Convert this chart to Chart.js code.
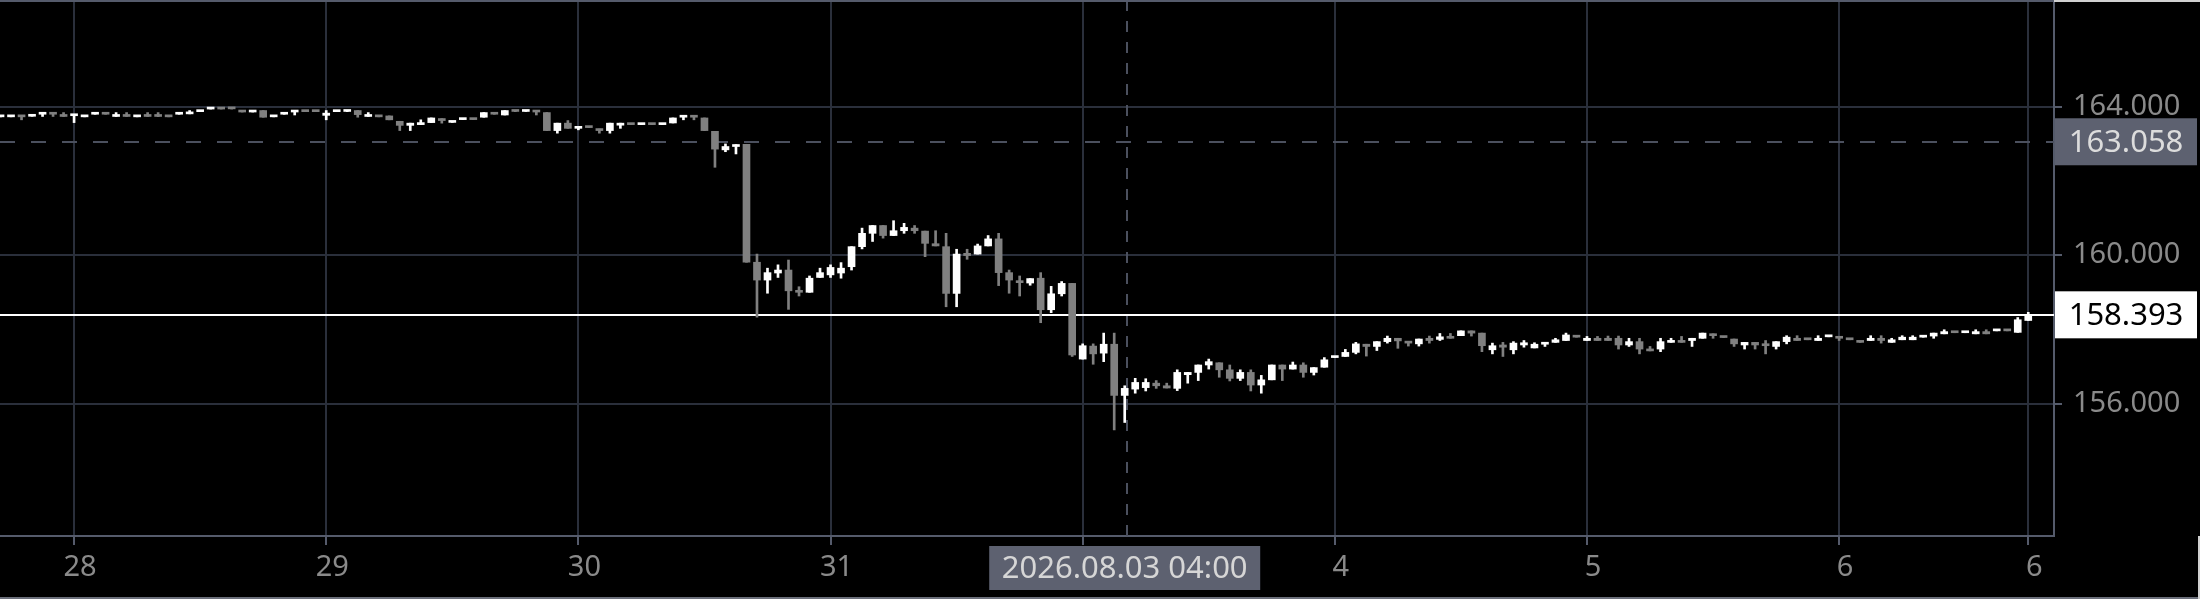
<!DOCTYPE html>
<html>
<head>
<meta charset="utf-8">
<script src="https://cdn.jsdelivr.net/npm/chart.js@4.4.1/dist/chart.umd.min.js"></script>
<style>
  html, body { margin: 0; padding: 0; background: #000; overflow: hidden; }
  #wrap { width: 2200px; height: 599px; }
</style>
</head>
<body>
<div id="wrap"><canvas id="graficoVelas" width="2200" height="599"></canvas></div>
<script>
// hourly candles, 27 jul 17:00 -> 6 aug 18:00
const opens = [
  163.73,163.73,163.75,163.745,163.80,163.83,163.76,163.76,163.73,163.80,
  163.82,163.74,163.78,163.73,163.78,163.77,163.75,163.80,163.81,163.87,
  163.94,163.96,163.955,163.88,163.86,163.90,163.73,163.80,163.86,163.89,
  163.89,163.77,163.87,163.875,163.90,163.74,163.75,163.755,163.61,163.50,
  163.52,163.575,163.68,163.58,163.655,163.675,163.72,163.82,163.78,163.89,
  163.875,163.90,163.845,163.36,163.56,163.42,163.46,163.40,163.36,163.505,
  163.54,163.52,163.54,163.52,163.565,163.72,163.76,163.70,163.34,162.84,
  162.93,162.99,159.81,159.33,159.52,159.60,159.04,159.00,159.40,159.47,
  159.52,159.69,160.23,160.59,160.80,160.53,160.66,160.73,160.65,160.31,
  160.23,158.97,160.05,160.03,160.25,160.44,159.53,159.31,159.25,159.38,
  158.53,158.96,159.24,157.20,157.55,157.36,157.60,156.22,156.39,156.43,
  156.55,156.48,156.41,156.78,156.84,157.04,157.10,156.91,156.68,156.84,
  156.50,156.64,157.04,156.93,157.04,156.84,156.98,157.24,157.27,157.38,
  157.60,157.54,157.67,157.76,157.67,157.61,157.76,157.73,157.80,157.83,
  157.96,157.90,157.45,157.58,157.45,157.58,157.50,157.60,157.65,157.70,
  157.81,157.70,157.76,157.76,157.76,157.58,157.67,157.47,157.47,157.65,
  157.70,157.70,157.76,157.88,157.80,157.74,157.58,157.65,157.61,157.54,
  157.67,157.76,157.74,157.70,157.80,157.81,157.74,157.67,157.70,157.76,
  157.65,157.72,157.72,157.79,157.82,157.88,157.93,157.91,157.88,157.94,
  157.96,157.98,157.92,158.24
];
const highs = [
  163.75,163.75,163.75,163.765,163.83,163.83,163.845,163.78,163.75,163.82,
  163.82,163.845,163.845,163.75,163.845,163.845,163.75,163.82,163.90,163.89,
  163.96,163.96,163.96,163.88,163.88,163.90,163.75,163.82,163.90,163.89,
  163.89,163.90,163.89,163.89,163.90,163.845,163.75,163.755,163.61,163.56,
  163.65,163.70,163.68,163.60,163.675,163.675,163.845,163.82,163.90,163.89,
  163.89,163.90,163.845,163.56,163.63,163.47,163.46,163.40,163.56,163.56,
  163.54,163.54,163.54,163.54,163.70,163.76,163.76,163.70,163.34,163.00,
  162.98,162.99,160.03,159.65,159.74,159.87,159.15,159.44,159.65,159.74,
  159.80,160.23,160.73,160.80,160.80,160.93,160.86,160.80,160.65,160.66,
  160.59,160.16,160.16,160.30,160.53,160.59,159.60,159.44,159.37,159.53,
  159.16,159.29,159.24,157.61,157.61,157.90,157.90,156.48,156.68,156.67,
  156.62,156.55,156.91,156.84,157.04,157.20,157.10,157.04,156.91,156.91,
  156.76,157.04,157.04,157.12,157.10,156.97,157.24,157.26,157.46,157.65,
  157.60,157.67,157.82,157.76,157.67,157.74,157.82,157.89,157.89,157.96,
  157.96,157.90,157.63,157.65,157.67,157.70,157.64,157.65,157.76,157.90,
  157.81,157.81,157.81,157.82,157.82,157.76,157.76,157.54,157.76,157.76,
  157.81,157.76,157.90,157.88,157.80,157.74,157.65,157.65,157.70,157.67,
  157.83,157.83,157.74,157.83,157.82,157.81,157.74,157.67,157.83,157.83,
  157.76,157.83,157.83,157.81,157.90,157.99,157.93,157.93,157.99,157.99,
  157.98,157.98,158.32,158.46
];
const lows = [
  163.73,163.73,163.65,163.745,163.74,163.74,163.74,163.575,163.73,163.80,
  163.80,163.74,163.74,163.73,163.74,163.735,163.73,163.80,163.81,163.87,
  163.94,163.94,163.94,163.86,163.86,163.72,163.73,163.80,163.78,163.87,
  163.87,163.65,163.87,163.87,163.72,163.74,163.73,163.65,163.36,163.36,
  163.52,163.575,163.56,163.58,163.655,163.655,163.72,163.80,163.78,163.87,
  163.875,163.78,163.36,163.29,163.42,163.38,163.44,163.29,163.29,163.42,
  163.52,163.52,163.52,163.52,163.565,163.65,163.65,163.36,162.37,162.79,
  162.73,159.81,158.33,158.975,159.40,158.54,158.90,159.00,159.40,159.40,
  159.38,159.60,160.17,160.37,160.46,160.53,160.59,160.59,159.96,160.25,
  158.61,158.61,159.89,160.03,160.25,159.18,158.975,158.90,159.19,158.18,
  158.45,158.90,157.27,157.20,157.06,157.13,155.29,155.49,156.28,156.34,
  156.41,156.42,156.35,156.55,156.62,156.93,156.71,156.61,156.62,156.34,
  156.28,156.64,156.62,156.93,156.71,156.77,156.98,157.24,157.27,157.34,
  157.28,157.43,157.63,157.49,157.55,157.55,157.63,157.70,157.76,157.83,
  157.82,157.40,157.34,157.27,157.34,157.52,157.50,157.54,157.65,157.70,
  157.79,157.70,157.70,157.70,157.47,157.54,157.34,157.42,157.40,157.65,
  157.65,157.54,157.76,157.76,157.78,157.54,157.47,157.47,157.34,157.47,
  157.61,157.70,157.72,157.70,157.80,157.70,157.72,157.65,157.70,157.63,
  157.65,157.72,157.72,157.79,157.76,157.88,157.91,157.91,157.88,157.88,
  157.96,157.96,157.92,158.24
];
const closes = [
  163.75,163.75,163.73,163.765,163.83,163.80,163.74,163.78,163.75,163.82,
  163.80,163.78,163.74,163.75,163.74,163.74,163.73,163.82,163.85,163.89,
  163.96,163.94,163.945,163.86,163.88,163.72,163.75,163.82,163.90,163.87,
  163.87,163.83,163.89,163.89,163.79,163.78,163.73,163.65,163.50,163.56,
  163.575,163.70,163.63,163.60,163.675,163.655,163.845,163.80,163.90,163.875,
  163.89,163.86,163.36,163.56,163.42,163.47,163.44,163.36,163.56,163.56,
  163.52,163.54,163.52,163.54,163.70,163.76,163.72,163.36,162.86,162.93,
  162.98,159.81,159.33,159.53,159.60,159.04,159.00,159.38,159.53,159.67,
  159.65,160.23,160.59,160.80,160.53,160.66,160.75,160.66,160.32,160.25,
  158.97,160.03,159.99,160.25,160.44,159.53,159.33,159.26,159.37,158.53,
  158.96,159.24,157.31,157.56,157.34,157.60,156.22,156.41,156.57,156.57,
  156.48,156.42,156.84,156.84,157.04,157.13,156.91,156.68,156.84,156.50,
  156.64,157.04,156.93,157.04,156.84,156.97,157.18,157.26,157.38,157.61,
  157.54,157.67,157.76,157.69,157.63,157.74,157.70,157.80,157.76,157.96,
  157.90,157.56,157.56,157.52,157.63,157.64,157.60,157.65,157.72,157.85,
  157.79,157.76,157.70,157.70,157.58,157.67,157.47,157.42,157.67,157.70,
  157.65,157.76,157.90,157.83,157.78,157.61,157.65,157.58,157.56,157.67,
  157.79,157.70,157.72,157.76,157.82,157.76,157.72,157.65,157.76,157.70,
  157.72,157.79,157.79,157.81,157.90,157.94,157.91,157.93,157.94,157.88,
  157.98,157.96,158.26,158.393
];

const dayTicks = [7, 31, 55, 79, 103, 127, 151, 175, 193];
const dayLabels = ['28', '29', '30', '31', '3', '4', '5', '6', '6'];
const priceTicks = [156, 160, 164];
const lastPrice = 158.393;
const crossPrice = 163.058;
const crossIndex = 107;
const crossLabel = '2026.08.03 04:00';

const upColor = '#ffffff';
const downColor = '#808080';
const gridColor = '#2a2f3b';
const frameColor = '#555b6b';
const boxColor = '#5d6170';
const textColor = '#8a8a8a';
const fontFamily = "'Noto Sans', 'Open Sans', sans-serif";

const candleColors = opens.map((o, i) => closes[i] >= o ? upColor : downColor);
const bodies = opens.map((o, i) => ({ x: i, y: [o, closes[i]] }));
const wicks = lows.map((l, i) => ({ x: i, y: [l, highs[i]] }));

function labelBox(ctx, text, cx, cy, w, h, bg, fg) {
  ctx.fillStyle = bg;
  ctx.fillRect(cx - w / 2, cy - h / 2, w, h);
  ctx.fillStyle = fg;
  ctx.font = `31px ${fontFamily}`;
  ctx.textAlign = 'center';
  ctx.textBaseline = 'middle';
  ctx.fillText(text, cx, cy + 1);
}

const marcas = {
  id: 'marcas',
  beforeDatasetsDraw(chart) {
    const { ctx, chartArea: area, scales: { x, y } } = chart;
    ctx.save();
    ctx.lineWidth = 2;
    ctx.strokeStyle = '#4b505e';
    // crosshair
    ctx.setLineDash([15, 16]);
    const cyPix = Math.round(y.getPixelForValue(crossPrice));
    ctx.beginPath();
    ctx.moveTo(area.left, cyPix);
    ctx.lineTo(area.right, cyPix);
    ctx.stroke();
    ctx.setLineDash([11, 10]);
    const cxPix = Math.round(x.getPixelForValue(crossIndex)) + 2;
    ctx.beginPath();
    ctx.moveTo(cxPix, area.top);
    ctx.lineTo(cxPix, area.bottom + 6);
    ctx.stroke();
    // last price
    ctx.setLineDash([]);
    ctx.strokeStyle = '#ffffff';
    const lyPix = Math.round(y.getPixelForValue(lastPrice));
    ctx.beginPath();
    ctx.moveTo(area.left, lyPix);
    ctx.lineTo(area.right, lyPix);
    ctx.stroke();
    ctx.restore();
  },
  afterDraw(chart) {
    const { ctx, chartArea: area, scales: { x, y }, width, height } = chart;
    ctx.save();
    // frame lines
    ctx.fillStyle = frameColor;
    ctx.fillRect(0, 0, area.right, 2);
    ctx.fillStyle = '#d0d0d0';
    ctx.fillRect(area.right, 0, width - area.right, 2);
    ctx.fillRect(width - 2, area.bottom, 2, height - area.bottom);
    ctx.fillStyle = '#6b6f7a';
    ctx.fillRect(0, height - 2, width - 2, 2);
    // labels
    const boxW = width - area.right - 4;
    const boxX = area.right + boxW / 2 + 1;
    labelBox(ctx, crossPrice.toFixed(3), boxX, y.getPixelForValue(crossPrice), boxW, 47, boxColor, '#dcdcdc');
    labelBox(ctx, lastPrice.toFixed(3), boxX, y.getPixelForValue(lastPrice), boxW, 47, '#ffffff', '#000000');
    labelBox(ctx, crossLabel, x.getPixelForValue(crossIndex), area.bottom + 32, 271, 44, boxColor, '#d6d6d6');
    ctx.restore();
  }
};

const ctxVelas = document.getElementById('graficoVelas').getContext('2d');
new Chart(ctxVelas, {
  type: 'bar',
  data: {
    datasets: [
      {
        label: 'Cuerpo',
        data: bodies,
        backgroundColor: candleColors,
        borderWidth: 0,
        borderSkipped: false,
        barThickness: 7,
        minBarLength: 2,
        grouped: false,
        order: 0
      },
      {
        label: 'Mecha',
        data: wicks,
        backgroundColor: candleColors,
        borderWidth: 0,
        borderSkipped: false,
        barThickness: 2,
        minBarLength: 1,
        grouped: false,
        order: 1
      }
    ]
  },
  options: {
    responsive: false,
    devicePixelRatio: 1,
    animation: false,
    events: [],
    layout: { padding: 0 },
    plugins: {
      legend: { display: false },
      tooltip: { enabled: false }
    },
    scales: {
      x: {
        type: 'linear',
        offset: false,
        min: -0.05,
        max: 195.45,
        afterBuildTicks: axis => { axis.ticks = dayTicks.map(v => ({ value: v })); },
        afterFit: axis => {
          axis.height = 63;
          axis.paddingLeft = 0;
          axis.paddingRight = 0;
        },
        ticks: {
          autoSkip: false,
          maxRotation: 0,
          padding: 5,
          labelOffset: 6,
          color: textColor,
          font: { family: fontFamily, size: 29 },
          callback: v => dayLabels[dayTicks.indexOf(v)]
        },
        grid: { offset: false, color: gridColor, lineWidth: 2, tickLength: 9, tickColor: frameColor, tickWidth: 2 },
        border: { display: true, color: frameColor, width: 2 }
      },
      y: {
        position: 'right',
        min: 152.43,
        max: 166.88,
        afterBuildTicks: axis => { axis.ticks = priceTicks.map(v => ({ value: v })); },
        afterFit: axis => {
          axis.width = 146;
          axis.paddingTop = 0;
          axis.paddingBottom = 0;
        },
        ticks: {
          padding: 11,
          color: textColor,
          font: { family: fontFamily, size: 29 },
          callback: v => v.toFixed(3)
        },
        grid: { color: gridColor, lineWidth: 2, tickLength: 8, tickColor: frameColor, tickWidth: 2 },
        border: { display: true, color: frameColor, width: 2 }
      }
    }
  },
  plugins: [marcas]
});
</script>
</body>
</html>
